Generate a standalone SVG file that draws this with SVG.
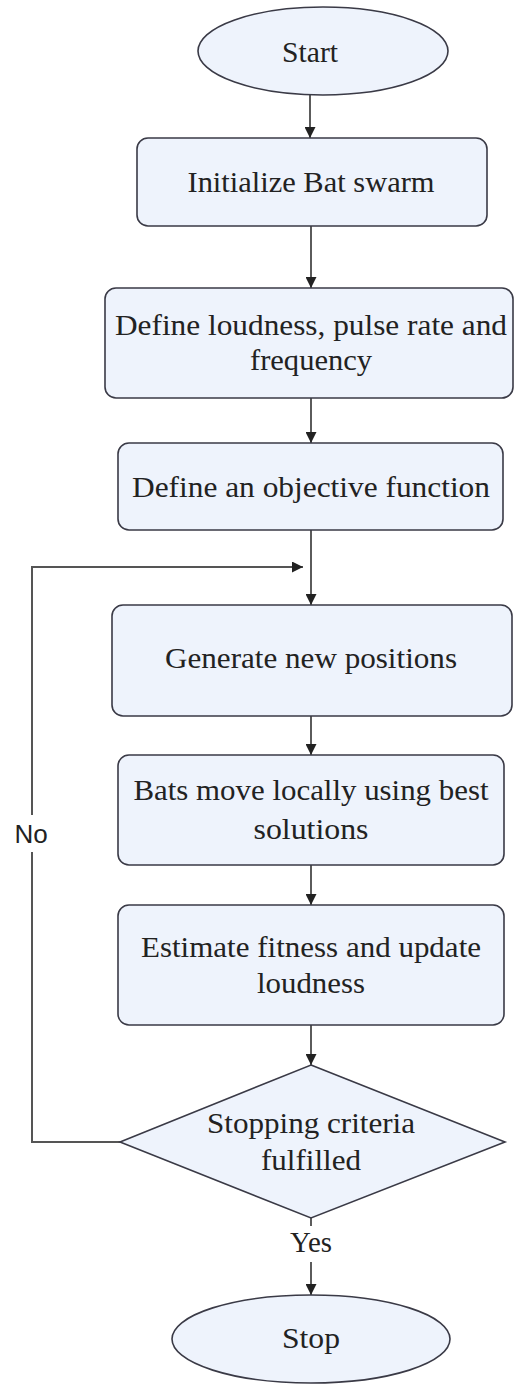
<svg xmlns="http://www.w3.org/2000/svg" width="514" height="1385" viewBox="0 0 514 1385">
  <style>
    .shape { fill: #eef3fc; stroke: #3a3a46; stroke-width: 1.6; }
    .t { font-family: "Liberation Serif", "Times New Roman", serif; font-size: 30px; fill: #222; text-anchor: middle; }
    .lbl { font-family: "Liberation Sans", Arial, sans-serif; font-size: 26px; fill: #222; text-anchor: middle; }
    .edge { fill: none; stroke: #333; stroke-width: 1.6; }
    .loop { fill: none; stroke: #555; stroke-width: 2; }
  </style>
  <defs>
    <marker id="arr" viewBox="0 0 10 10" refX="10" refY="5" markerWidth="11" markerHeight="11" markerUnits="userSpaceOnUse" orient="auto">
      <path d="M0,0 L10,5 L0,10 z" fill="#222"/>
    </marker>
  </defs>
  <rect width="514" height="1385" fill="#ffffff"/>

  <g id="connectors">
    <line class="edge" x1="310" y1="95" x2="310" y2="138" marker-end="url(#arr)"/>
    <line class="edge" x1="311" y1="226" x2="311" y2="288" marker-end="url(#arr)"/>
    <line class="edge" x1="311" y1="398" x2="311" y2="443" marker-end="url(#arr)"/>
    <line class="edge" x1="311" y1="530" x2="311" y2="605" marker-end="url(#arr)"/>
    <line class="edge" x1="311" y1="716" x2="311" y2="755" marker-end="url(#arr)"/>
    <line class="edge" x1="311" y1="865" x2="311" y2="905" marker-end="url(#arr)"/>
    <line class="edge" x1="311" y1="1025" x2="311" y2="1065" marker-end="url(#arr)"/>
    <line class="edge" x1="311" y1="1218" x2="311" y2="1295" marker-end="url(#arr)"/>
    <polyline class="loop" points="120,1142 32,1142 32,567 303,567" marker-end="url(#arr)"/>
    <rect x="288" y="1226" width="46" height="36" fill="#ffffff"/>
    <text class="t" x="311" y="1252" textLength="42" lengthAdjust="spacingAndGlyphs">Yes</text>
    <rect x="12" y="815" width="40" height="37" fill="#ffffff"/>
    <text class="lbl" x="31" y="843">No</text>
  </g>

  <g id="start">
    <ellipse class="shape" cx="323" cy="51" rx="125" ry="44"/>
    <text class="t" x="310" y="62" textLength="56" lengthAdjust="spacingAndGlyphs">Start</text>
  </g>
  <g id="init">
    <rect class="shape" x="137" y="138" width="350" height="88" rx="11"/>
    <text class="t" x="311" y="192" textLength="247" lengthAdjust="spacingAndGlyphs">Initialize Bat swarm</text>
  </g>
  <g id="define-params">
    <rect class="shape" x="105" y="288" width="408" height="110" rx="11"/>
    <text class="t" x="311" y="335" textLength="392" lengthAdjust="spacingAndGlyphs">Define loudness, pulse rate and</text>
    <text class="t" x="311" y="370" textLength="122" lengthAdjust="spacingAndGlyphs">frequency</text>
  </g>
  <g id="objective">
    <rect class="shape" x="118" y="443" width="385" height="87" rx="11"/>
    <text class="t" x="311" y="497" textLength="358" lengthAdjust="spacingAndGlyphs">Define an objective function</text>
  </g>
  <g id="generate">
    <rect class="shape" x="112" y="605" width="400" height="111" rx="11"/>
    <text class="t" x="311" y="668" textLength="292" lengthAdjust="spacingAndGlyphs">Generate new positions</text>
  </g>
  <g id="move-locally">
    <rect class="shape" x="118" y="755" width="386" height="110" rx="11"/>
    <text class="t" x="311" y="800" textLength="355" lengthAdjust="spacingAndGlyphs">Bats move locally using best</text>
    <text class="t" x="311" y="839" textLength="115" lengthAdjust="spacingAndGlyphs">solutions</text>
  </g>
  <g id="estimate">
    <rect class="shape" x="118" y="905" width="386" height="120" rx="11"/>
    <text class="t" x="311" y="957" textLength="340" lengthAdjust="spacingAndGlyphs">Estimate fitness and update</text>
    <text class="t" x="311" y="993" textLength="108" lengthAdjust="spacingAndGlyphs">loudness</text>
  </g>
  <g id="decision">
    <polygon class="shape" points="311,1065 505,1142 311,1218 120,1142"/>
    <text class="t" x="311" y="1133" textLength="208" lengthAdjust="spacingAndGlyphs">Stopping criteria</text>
    <text class="t" x="311" y="1170" textLength="100" lengthAdjust="spacingAndGlyphs">fulfilled</text>
  </g>
  <g id="stop">
    <ellipse class="shape" cx="311" cy="1339" rx="139" ry="44"/>
    <text class="t" x="311" y="1348" textLength="58" lengthAdjust="spacingAndGlyphs">Stop</text>
  </g>
</svg>
